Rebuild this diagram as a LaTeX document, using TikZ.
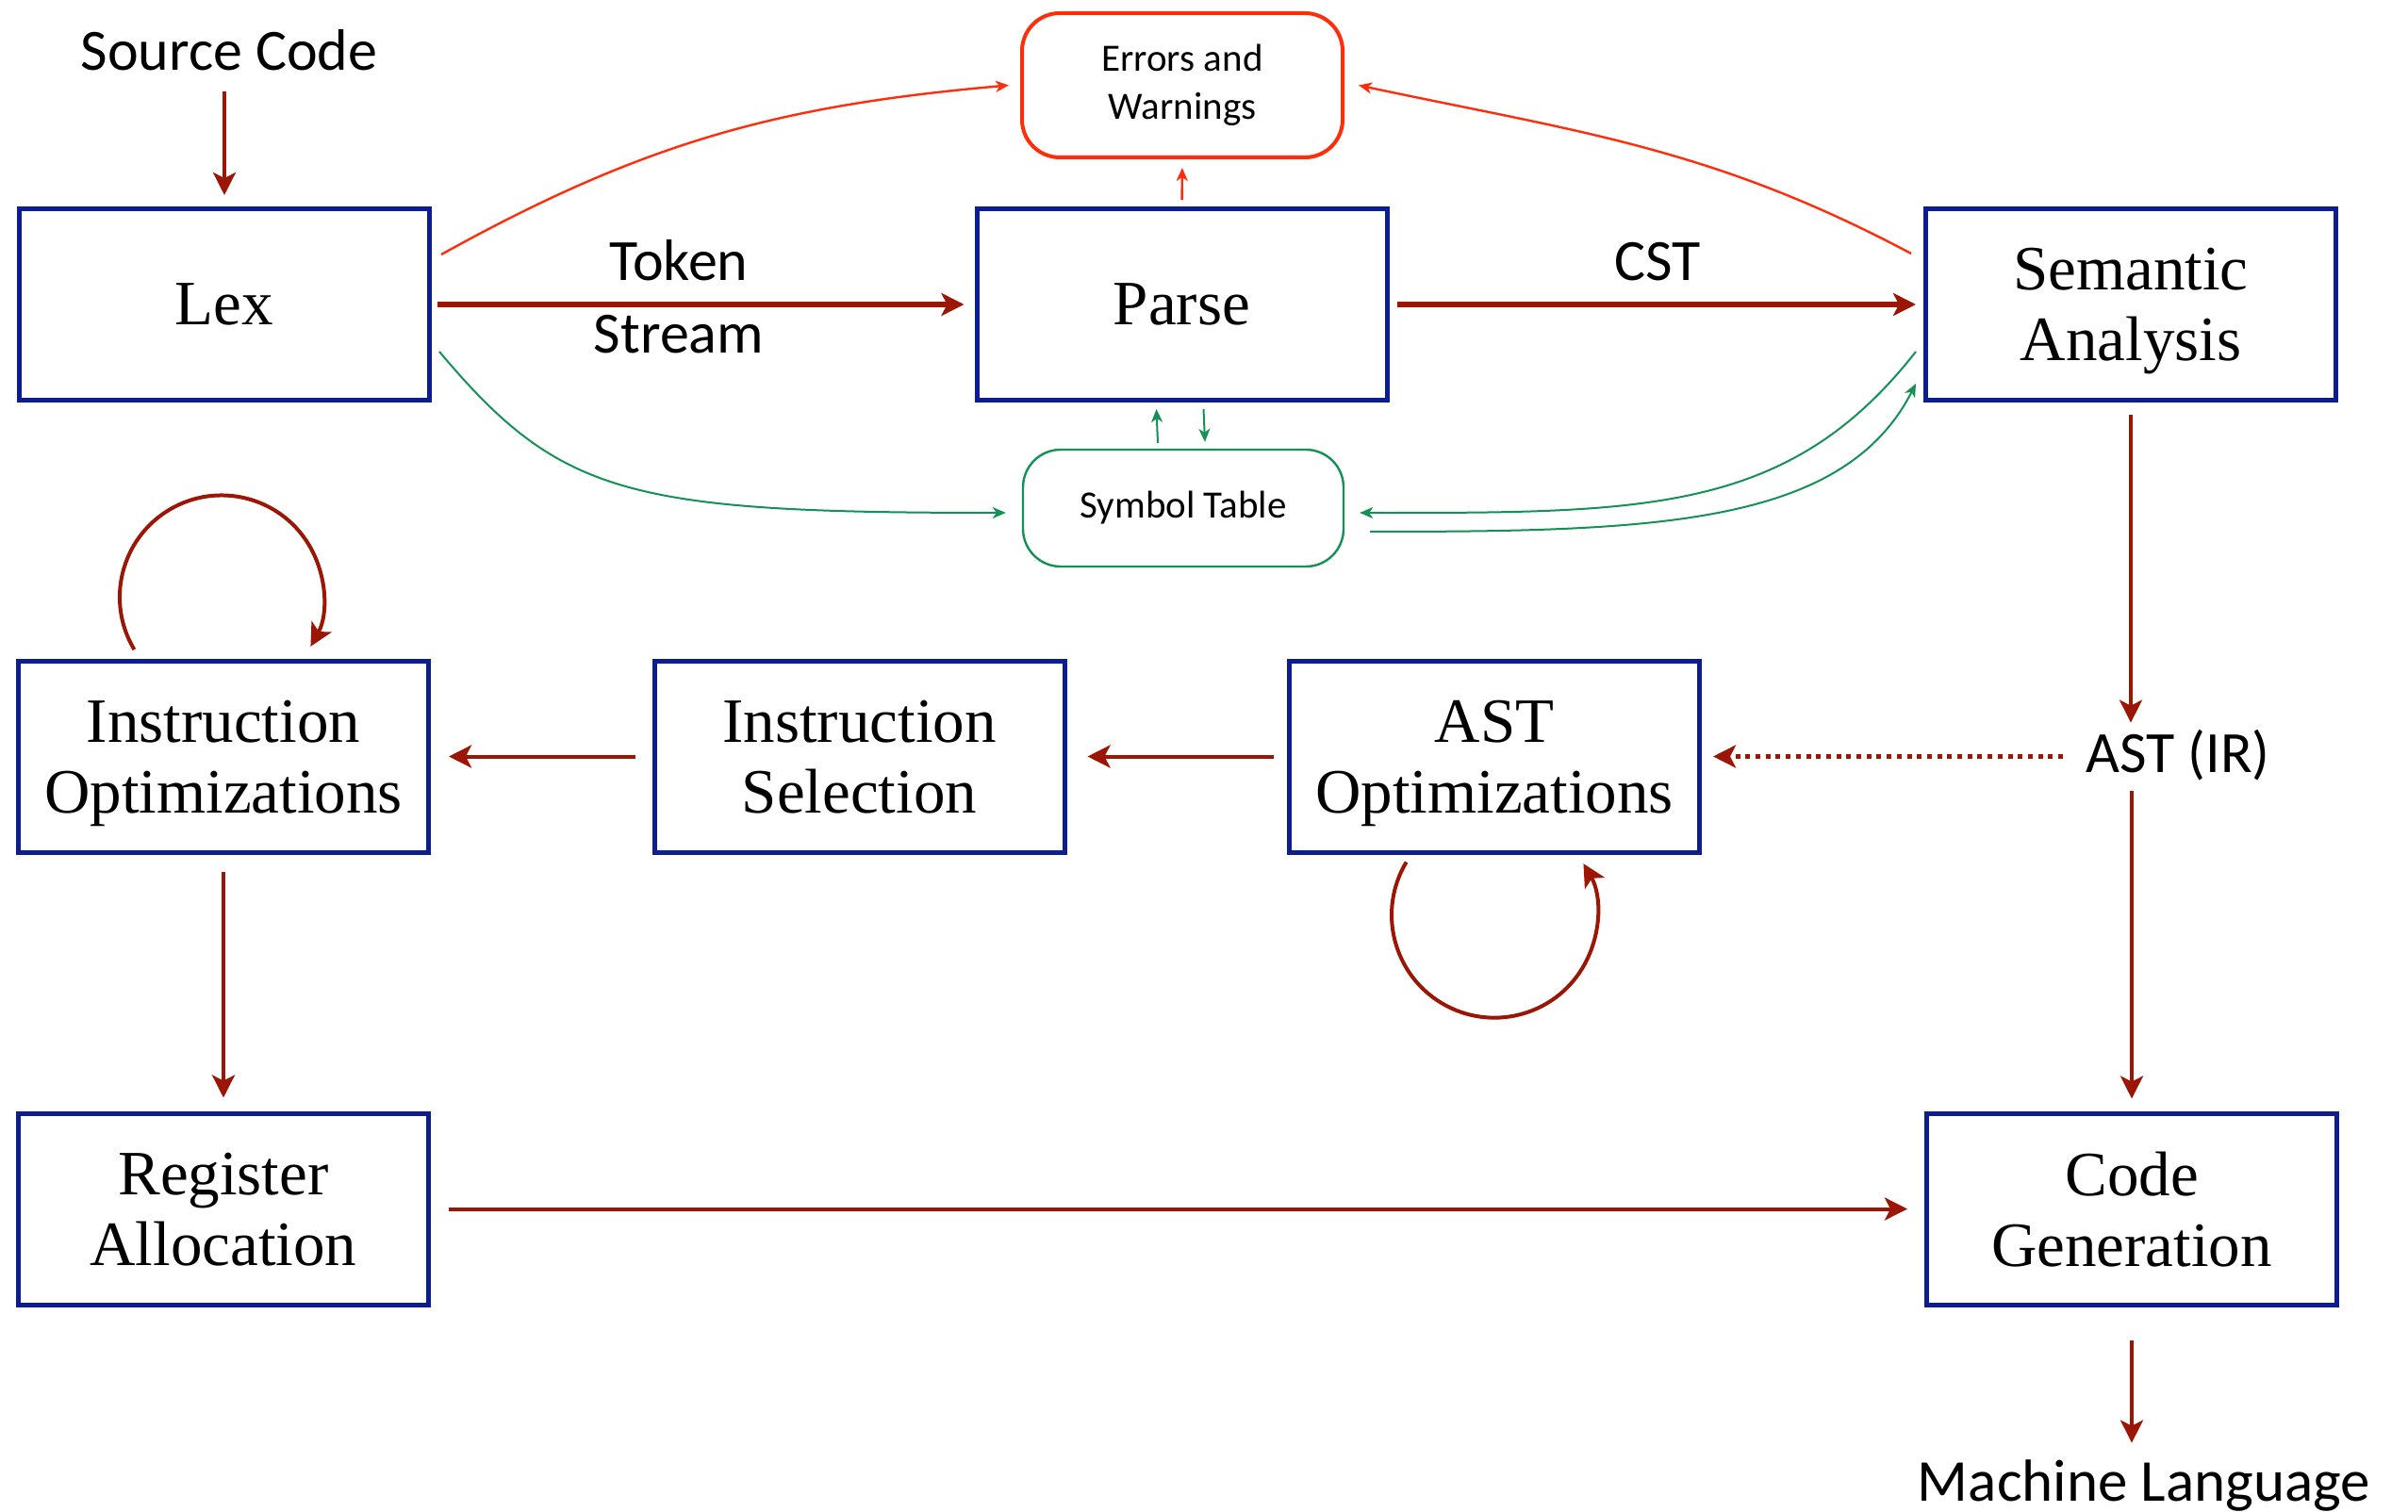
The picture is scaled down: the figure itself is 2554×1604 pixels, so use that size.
\documentclass[tikz,border=0pt]{standalone}
\usepackage{fontspec}
\setmainfont{Liberation Serif}
\newfontfamily\calib{Carlito}
\usetikzlibrary{arrows.meta,calc}
\definecolor{boxblue}{RGB}{12,28,145}
\definecolor{dred}{RGB}{155,22,5}
\definecolor{ered}{RGB}{255,45,10}
\definecolor{sgreen}{RGB}{20,145,85}
\begin{document}
\begin{tikzpicture}[x=0.5pt,y=0.5pt,
  box/.style={draw=boxblue, line width=2.5pt, minimum width=217.5pt, minimum height=101.5pt,
    inner sep=0pt, align=center, font=\fontsize{33.5pt}{37.5pt}\selectfont, text depth=0pt},
  lbl/.style={inner sep=0pt, font=\calib\fontsize{31pt}{37pt}\selectfont,
    text height=20pt, text depth=0pt, anchor=base},
  arr/.style={draw=dred, line width=2pt, -{Stealth[length=12pt,width=12pt,inset=3pt]}},
  dotarr/.style={arr, line width=2.5pt, dash pattern=on 2.5pt off 2.85pt},
  tred/.style={draw=ered, line width=1.2pt, -{Stealth[length=7pt,width=6pt,inset=2pt]}},
  tgreen/.style={draw=sgreen, line width=1pt, -{Stealth[length=7pt,width=6pt,inset=2pt]}}]
\useasboundingbox (0,0) rectangle (2554,-1604);
\fill[white] (0,0) rectangle (2554,-1604);

% process boxes
\node[box] (lex) at (238,-323) {Lex};
\node[box] (parse) at (1253.5,-323) {Parse};
\node[box] (sem) at (2260,-323) {Semantic\\Analysis};
\node[box] (instopt) at (237,-802.5) {Instruction\\Optimizations};
\node[box] (instsel) at (911.5,-802.5) {Instruction\\Selection};
\node[box] (astopt) at (1585,-802.5) {AST\\Optimizations};
\node[box] (reg) at (237,-1282.5) {Register\\Allocation};
\node[box] (code) at (2261,-1282.5) {Code\\Generation};

% side stores
\node[draw=ered, line width=2pt, rounded corners=20pt, minimum width=170pt, minimum height=76.5pt,
  align=center, inner sep=0pt, font=\calib\fontsize{20.5pt}{25.75pt}\selectfont]
  (err) at (1254,-90.5) {Errors and\\Warnings};
\node[draw=sgreen, line width=1.2pt, rounded corners=20pt, minimum width=170pt, minimum height=62pt,
  inner sep=0pt, font=\calib\fontsize{20.5pt}{25pt}\selectfont]
  (sym) at (1255,-539) {Symbol Table};

% labels
\node[lbl] (src) at (243,-75) {Source Code};
\node[lbl] (tok) at (720,-298) {Token};
\node[lbl] (strm) at (720,-375) {Stream};
\node[lbl] (cst) at (1758,-298) {CST};
\node[lbl] (astir) at (2310,-819) {AST (IR)};
\node[lbl, font=\calib\fontsize{31.5pt}{37pt}\selectfont] (ml) at (2274,-1592) {Machine Language};

% main flow
\draw[arr, shorten <=11pt, shorten >=6pt] (lex.north |- src.south) -- (lex.north);
\draw[arr, line width=2.75pt, shorten <=3pt, shorten >=5.5pt] (lex.east) -- (parse.west);
\draw[arr, line width=2.75pt, shorten <=4pt, shorten >=4pt] (parse.east) -- (sem.west);
\draw[arr, shorten <=6.5pt, shorten >=6pt] (sem.south) -- (sem.south |- astir.north);
\draw[arr, shorten <=10pt, shorten >=6.5pt] (code.north |- astir.south) -- (code.north);
\draw[arr, shorten <=17.5pt, shorten >=10.5pt] (code.south) -- (code.south |- ml.north);
\draw[dotarr, shorten <=12pt, shorten >=6pt] (astir.west |- astopt.east) -- (astopt.east);
\draw[arr, shorten <=7pt, shorten >=11pt] (astopt.west) -- (instsel.east);
\draw[arr, shorten <=9pt, shorten >=9.5pt] (instsel.west) -- (instopt.east);
\draw[arr, shorten <=9pt, shorten >=7pt] (instopt.south) -- (reg.north);
\draw[arr, shorten <=9.5pt, shorten >=9pt] (reg.east) -- (code.west);

% self loops
\draw[arr] ([shift={(-94.6,9.4)}]instopt.north) arc[start angle=211, end angle=-29, radius=54pt];
\draw[arr] ([shift={(-93.4,-8)}]astopt.south) arc[start angle=149, end angle=390, radius=54.5pt];

% errors
\draw[tred] ([shift={(10,-51)}]lex.north east) to[out=29,in=185] ([shift={(-12,0)}]err.west);
\draw[tred] ([shift={(-13,-50)}]sem.north west) to[out=152,in=-12] ([shift={(15,0)}]err.east);
\draw[tred, shorten <=3.5pt, shorten >=4.5pt] (parse.north) -- (err.south);

% symbol table
\draw[tgreen] ([shift={(8,54)}]lex.south east) .. controls +(-50:200) and +(-400,0) .. ([shift={(-17,-5)}]sym.west);
\draw[tgreen] ([shift={(-8,54)}]sem.south west) .. controls +(232:220) and +(300,0) .. ([shift={(16,-5)}]sym.east);
\draw[tgreen] ([shift={(27,-25)}]sym.east) .. controls +(300,0) and +(243:170) .. ([shift={(-8,20)}]sem.south west);
\draw[tgreen] ([shift={(-27,6)}]sym.north) -- ([shift={(-27,-7)}]parse.south);
\draw[tgreen] ([shift={(23,-7)}]parse.south) -- ([shift={(23,7)}]sym.north);
\end{tikzpicture}
\end{document}
